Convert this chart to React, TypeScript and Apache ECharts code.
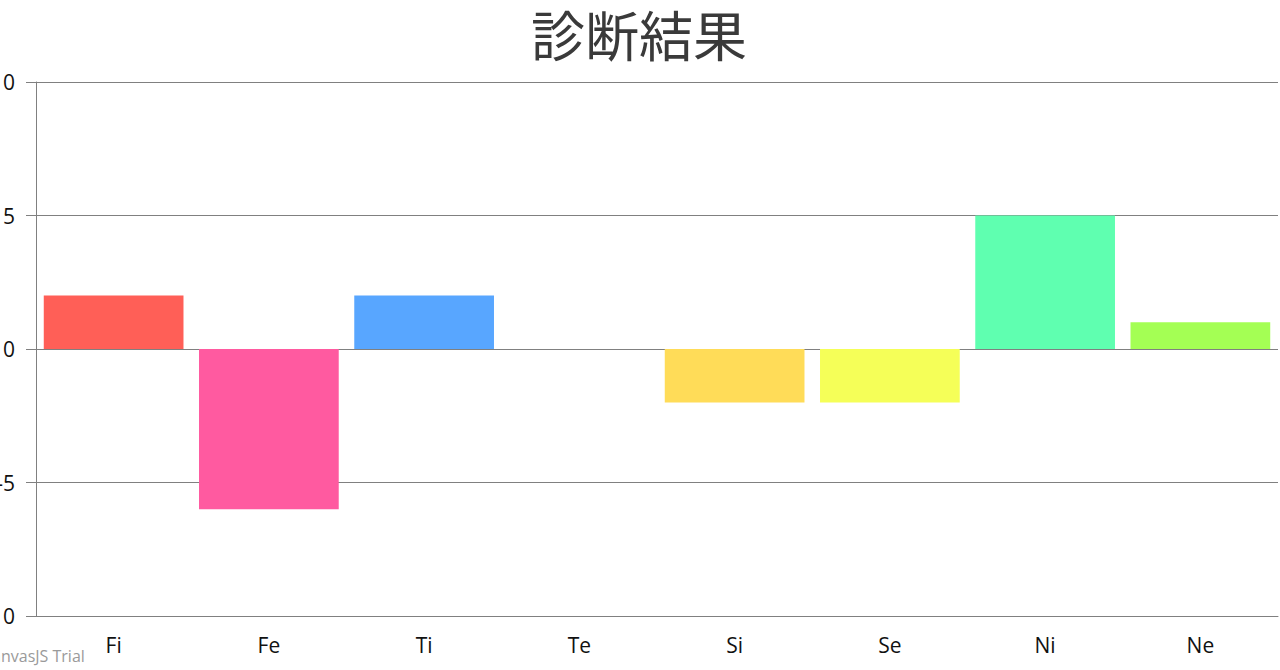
import { useEffect, useRef } from "react";
import * as echarts from "echarts";

const categories = ["Fi", "Fe", "Ti", "Te", "Si", "Se", "Ni", "Ne"];
const values = [2, -6, 2, 0, -2, -2, 5, 1];
const barColors = ["#FF5F57", "#FF5AA0", "#58A6FF", "#58A6FF", "#FFDC58", "#F5FF58", "#5FFFB0", "#A4FF54"];
const yTicks = { min: -10, max: 10, interval: 5 };

// the original is shifted left so the y labels get clipped by the window edge
const SHIFT = 40;

export default function App() {
  const chartRef = useRef<HTMLDivElement>(null);

  useEffect(() => {
    if (!chartRef.current) return;
    const chart = echarts.init(chartRef.current, null, { renderer: "svg" });

    const gridColor = "#808080";
    const labelFont = "'Open Sans', 'Noto Sans', sans-serif";

    chart.setOption({
      animation: false,
      backgroundColor: "#ffffff",
      title: {
        text: "診断結果",
        left: 526 + SHIFT,
        top: 1,
        textStyle: {
          fontFamily: "'Noto Sans CJK JP', sans-serif",
          fontSize: 54,
          fontWeight: "normal",
          color: "#3a3a3a",
        },
      },
      grid: {
        left: 36 + SHIFT,
        right: 2,
        top: 82,
        bottom: 54,
        containLabel: false,
      },
      xAxis: {
        type: "category",
        data: categories,
        axisLine: { onZero: false, lineStyle: { color: gridColor, width: 1 } },
        axisTick: { alignWithLabel: true, length: 8, lineStyle: { color: gridColor } },
        axisLabel: { color: "#111", fontSize: 21, fontFamily: labelFont, margin: 18 },
        splitLine: { show: false },
      },
      yAxis: {
        type: "value",
        min: yTicks.min,
        max: yTicks.max,
        interval: yTicks.interval,
        axisLine: { show: true, lineStyle: { color: gridColor, width: 1 } },
        axisTick: { show: true, length: 10, lineStyle: { color: gridColor } },
        axisLabel: { color: "#111", fontSize: 21, fontFamily: labelFont, margin: 21 },
        splitLine: { show: true, lineStyle: { color: gridColor, width: 1 } },
      },
      series: [
        {
          type: "bar",
          barWidth: "90%",
          data: values.map((v, i) => ({ value: v, itemStyle: { color: barColors[i] } })),
        },
      ],
      graphic: [
        {
          type: "text",
          left: 22,
          top: 648,
          style: {
            text: "CanvasJS Trial",
            fill: "#9a9a9a",
            fontSize: 16,
            fontFamily: labelFont,
          },
        },
      ],
    });

    return () => {
      chart.dispose();
    };
  }, []);

  return (
    <div
      ref={chartRef}
      style={{ position: "fixed", left: -SHIFT, top: 0, width: 1280 + SHIFT, height: 670 }}
    />
  );
}
